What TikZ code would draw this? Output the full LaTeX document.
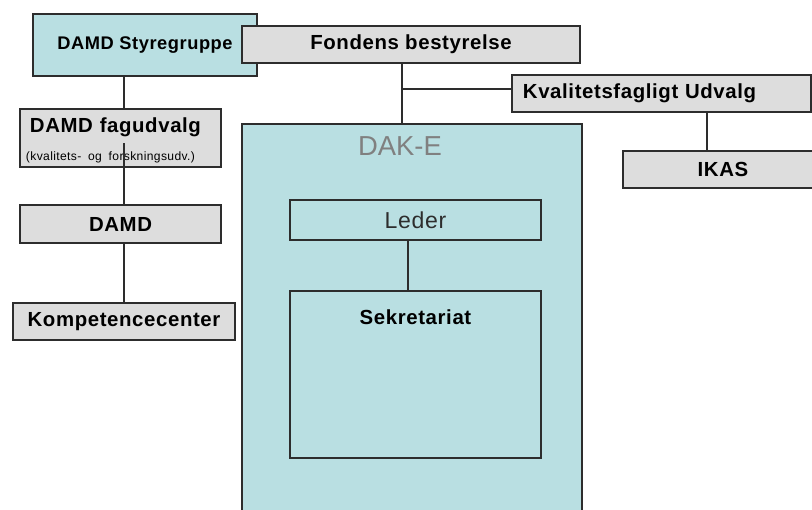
\documentclass[tikz,border=0pt]{standalone}
\usepackage{fontspec}
\setmainfont{Liberation Sans}[LetterSpace=3]
\definecolor{dakcyan}{RGB}{185,223,226}
\definecolor{boxgray}{RGB}{221,221,221}
\definecolor{rim}{RGB}{45,45,45}
\newcommand\bigbold{\bfseries\fontsize{14.5}{17}\selectfont}

\begin{document}
\begin{tikzpicture}[x=0.025cm,y=-0.025cm,
    box/.style={draw=rim,line width=1pt,inner sep=0pt,font=\bigbold},
    graybox/.style={box,fill=boxgray},
    cyanbox/.style={box,fill=dakcyan},
    link/.style={draw=rim,line width=0.8pt}]
        \useasboundingbox (0,0) rectangle (812,509);
        \clip (0,0) rectangle (812,509);
        \node[cyanbox,minimum width=5.6cm,minimum height=1.55cm,font=\bfseries\fontsize{13}{15}\selectfont] (Styre) at (145,45){DAMD Styregruppe};
        \node[graybox,minimum width=8.45cm,minimum height=0.925cm] (Fond) at (411,44.5){Fondens bestyrelse};
        \node[graybox,text width=6.925cm,inner xsep=0.275cm,minimum height=0.925cm,align=left] (Kval) at (661.5,93.5){Kvalitetsfagligt Udvalg};
        \node[graybox,minimum width=5cm,minimum height=0.925cm] (Ikas) at (723,169.5){IKAS};
        \node[graybox,text width=4.525cm,inner xsep=0.25cm,minimum height=1.45cm,align=left] (Fag) at (120.5,138){\rule{0pt}{14pt}DAMD fagudvalg\\[3pt]\hspace*{-0.1cm}{\mdseries\fontsize{8.6}{10}\selectfont(kvalitets- og forskningsudv.)}};
        \node[graybox,minimum width=5.025cm,minimum height=0.95cm] (Damd) at (120.5,224){DAMD};
        \node[graybox,minimum width=5.55cm,minimum height=0.925cm] (Komp) at (124,321.5){Kompetencecenter};
        \node[cyanbox,minimum width=8.5cm,minimum height=10.15cm] (Dak) at (412,327){};
        \node[text=gray,font=\fontsize{19.5}{22}\selectfont\addfontfeature{LetterSpace=0}] (DakLabel) at (400,146){DAK-E};
        \node[cyanbox,minimum width=6.275cm,minimum height=1cm,font=\fontsize{16.4}{19}\selectfont,text=rim] (Leder) at (415.5,220){Leder};
        \node[cyanbox,minimum width=6.275cm,minimum height=4.175cm,
            label={[anchor=north,inner sep=0pt,yshift=-0.475cm,font=\bigbold]north:Sekretariat}] (Sek) at (415.5,374.5){};
        \coordinate (Gap) at (124,143);
        \coordinate (Split) at (402,89);
        \coordinate (Tap) at (707,151);
        \coordinate (Stem) at (408,265);
        \draw[link] (Gap |- Styre.south) -- (Gap |- Fag.north);
        \draw[link] (Gap) -- (Gap |- Damd.north);
        \draw[link] (Gap |- Damd.south) -- (Gap |- Komp.north);
        \draw[link] (Split |- Fond.south) -- (Split |- Dak.north);
        \draw[link] (Split) -- (Split -| Kval.west);
        \draw[link] (Tap |- Kval.south) -- (Tap |- Ikas.north);
        \draw[link] (Stem |- Leder.south) -- (Stem |- Sek.north);
    \end{tikzpicture}
\end{document}
